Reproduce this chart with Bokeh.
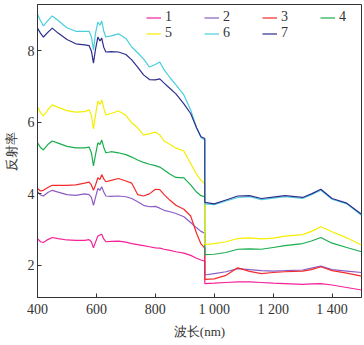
from bokeh.plotting import figure
from bokeh.models import Range1d, FixedTicker, Legend, LegendItem
from bokeh.embed import file_html
from bokeh.resources import INLINE

# wavelengths (nm)
wl_vnir = [400, 410, 420, 435, 450, 470, 500, 530, 560, 575, 583, 590, 597, 605, 612, 618, 625, 632,
           650, 675, 700, 720, 740, 760, 780, 800, 815, 830, 850, 870, 897, 920, 940, 955, 968]
wl_swir = [968, 1000, 1040, 1080, 1120, 1160, 1200, 1240, 1300, 1330, 1362, 1400, 1450, 1500]

labels = ["1", "2", "3", "4", "5", "6", "7"]
colors = ["#f5209a", "#8c5cc4", "#f52a2a", "#1aad4e", "#f4ee00", "#48cfdc", "#2e2e8e"]

s1_vnir = [2.75, 2.66, 2.64, 2.72, 2.78, 2.75, 2.71, 2.70, 2.70, 2.72, 2.66, 2.49, 2.65, 2.82, 2.85, 2.87, 2.74, 2.66,
           2.67, 2.68, 2.65, 2.61, 2.58, 2.55, 2.52, 2.49, 2.48, 2.45, 2.42, 2.38, 2.34, 2.28, 2.20, 2.15, 2.12]
s1_swir = [1.49, 1.50, 1.52, 1.54, 1.54, 1.52, 1.50, 1.49, 1.47, 1.48, 1.49, 1.45, 1.38, 1.31]

s2_vnir = [4.06, 3.97, 3.94, 4.04, 4.10, 4.05, 3.98, 3.96, 4.00, 3.98, 3.90, 3.68, 3.90, 4.15, 4.10, 4.20, 4.05, 3.94,
           3.93, 3.94, 3.92, 3.87, 3.78, 3.68, 3.64, 3.65, 3.60, 3.54, 3.50, 3.45, 3.36, 3.20, 3.05, 2.95, 2.90]
s2_swir = [1.73, 1.77, 1.82, 1.91, 1.88, 1.85, 1.84, 1.85, 1.87, 1.92, 1.98, 1.88, 1.84, 1.80]

s3_vnir = [4.15, 4.08, 4.10, 4.18, 4.24, 4.24, 4.24, 4.25, 4.30, 4.33, 4.25, 4.10, 4.25, 4.45, 4.40, 4.54, 4.42, 4.34,
           4.38, 4.43, 4.36, 4.30, 3.98, 3.94, 4.00, 4.13, 4.12, 3.98, 3.82, 3.68, 3.57, 3.38, 2.90, 2.60, 2.48]
s3_swir = [1.61, 1.62, 1.72, 1.93, 1.83, 1.77, 1.80, 1.82, 1.84, 1.88, 1.96, 1.85, 1.78, 1.70]

s4_vnir = [5.43, 5.30, 5.23, 5.38, 5.48, 5.42, 5.33, 5.29, 5.29, 5.31, 5.15, 4.78, 5.10, 5.43, 5.38, 5.51, 5.30, 5.15,
           5.18, 5.15, 5.10, 5.03, 4.95, 4.88, 4.83, 4.79, 4.75, 4.67, 4.55, 4.46, 4.45, 4.25, 4.05, 3.95, 3.92]
s4_swir = [2.30, 2.31, 2.36, 2.45, 2.46, 2.45, 2.50, 2.55, 2.61, 2.68, 2.78, 2.62, 2.50, 2.38]

s5_vnir = [6.43, 6.28, 6.18, 6.35, 6.49, 6.42, 6.33, 6.29, 6.30, 6.35, 6.20, 5.82, 6.20, 6.60, 6.50, 6.63, 6.40, 6.21,
           6.25, 6.32, 6.20, 5.99, 5.85, 5.65, 5.68, 5.73, 5.65, 5.48, 5.38, 5.28, 5.20, 4.85, 4.55, 4.38, 4.28]
s5_swir = [2.58, 2.61, 2.66, 2.75, 2.77, 2.74, 2.76, 2.82, 2.86, 2.95, 3.08, 2.94, 2.77, 2.57]

s6_vnir = [9.03, 8.85, 8.70, 8.85, 8.98, 8.85, 8.65, 8.55, 8.55, 8.55, 8.40, 8.03, 8.50, 8.81, 8.72, 8.84, 8.55, 8.39,
           8.42, 8.48, 8.35, 8.11, 7.95, 7.78, 7.55, 7.62, 7.69, 7.47, 7.25, 7.05, 6.77, 6.35, 5.85, 5.58, 5.51]
s6_swir = [3.72, 3.70, 3.80, 3.90, 3.92, 3.84, 3.88, 3.92, 3.87, 3.98, 4.10, 3.85, 3.72, 3.40]

s7_vnir = [8.64, 8.50, 8.39, 8.52, 8.64, 8.50, 8.32, 8.20, 8.17, 8.15, 8.00, 7.66, 8.05, 8.39, 8.28, 8.36, 8.10, 7.97,
           7.98, 7.97, 7.90, 7.75, 7.55, 7.33, 7.20, 7.19, 7.22, 7.10, 6.95, 6.80, 6.52, 6.25, 5.85, 5.60, 5.55]
s7_swir = [3.76, 3.72, 3.83, 3.94, 3.95, 3.87, 3.91, 3.95, 3.90, 4.00, 4.13, 3.87, 3.74, 3.43]

series = [(s1_vnir, s1_swir), (s2_vnir, s2_swir), (s3_vnir, s3_swir), (s4_vnir, s4_swir),
          (s5_vnir, s5_swir), (s6_vnir, s6_swir), (s7_vnir, s7_swir)]

x_ticks = [400, 600, 800, 1000, 1200, 1400]
x_tick_labels = ["400", "600", "800", "1 000", "1 200", "1 400"]
y_ticks = [2, 4, 6, 8]

SERIF = "Liberation Serif"

p = figure(frame_width=324, frame_height=293,
           x_range=Range1d(400, 1500), y_range=Range1d(1.1, 9.3),
           output_backend="svg", toolbar_location=None,
           min_border_left=36, min_border_top=4, min_border_right=3, min_border_bottom=47)

p.grid.visible = False
p.outline_line_color = "#333333"
p.outline_line_width = 1
p.background_fill_color = "white"

for ax in (p.xaxis[0], p.yaxis[0]):
    ax.major_tick_in = 4
    ax.major_tick_out = 0
    ax.minor_tick_line_color = None
    ax.axis_line_color = "#333333"
    ax.major_tick_line_color = "#333333"
    ax.major_label_text_font = SERIF
    ax.major_label_text_font_size = "14px"
    ax.major_label_text_color = "#333333"
    ax.axis_label_text_font = SERIF
    ax.axis_label_text_font_size = "13px"
    ax.axis_label_text_font_style = "normal"
    ax.axis_label_text_color = "#333333"

p.xaxis.ticker = FixedTicker(ticks=x_ticks)
p.xaxis.major_label_overrides = {t: l for t, l in zip(x_ticks, x_tick_labels)}
p.yaxis.ticker = FixedTicker(ticks=y_ticks)
p.xaxis.axis_label = "波长(nm)"
p.yaxis.axis_label = "反射率"
p.xaxis.major_label_standoff = 4
p.xaxis.axis_label_standoff = 4
p.yaxis.major_label_standoff = 3
p.yaxis.axis_label_standoff = 6

items = []
for lab, col, (v, s) in zip(labels, colors, series):
    r = p.line(wl_vnir + wl_swir, v + s, line_color=col, line_width=1.2)
    items.append(LegendItem(label=lab, renderers=[r]))

legend = Legend(items=items, location=(109, 256), orientation="horizontal", ncols=4,
                glyph_width=15, glyph_height=15, label_width=39, label_height=15,
                label_standoff=4, spacing=0, padding=0, margin=0,
                border_line_alpha=0, background_fill_alpha=0,
                label_text_font=SERIF, label_text_font_size="14px",
                label_text_color="#333333")
p.add_layout(legend, "center")

open("out.html", "w").write(file_html(p, INLINE))
